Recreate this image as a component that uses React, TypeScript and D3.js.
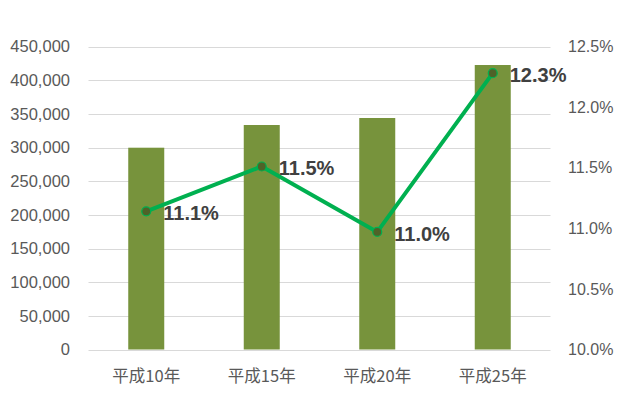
import { useEffect, useRef } from 'react';
import * as d3 from 'd3';

const categories = ['平成10年', '平成15年', '平成20年', '平成25年'];
const amounts = [299700, 333400, 343800, 422500];
const rates = [11.14, 11.51, 10.97, 12.28];
const leftTicks = [0, 50000, 100000, 150000, 200000, 250000, 300000, 350000, 400000, 450000];
const rightTicks = [10.0, 10.5, 11.0, 11.5, 12.0, 12.5];

const W = 622;
const H = 395;

const App = () => {
  const ref = useRef<SVGSVGElement>(null);

  useEffect(() => {
    const svg = d3.select(ref.current);
    svg.selectAll('*').remove();

    const left = 88.5;
    const right = 550.5;
    const top = 46.5;
    const bottom = 349.5;
    const numFont = "'Liberation Sans', Arial, sans-serif";

    const x = d3.scaleBand().domain(categories).range([left, right]);
    const yL = d3.scaleLinear().domain([0, 450000]).range([bottom, top]);
    const yR = d3.scaleLinear().domain([10, 12.5]).range([bottom, top]);

    // gridlines
    svg.append('g')
      .selectAll('line')
      .data(leftTicks)
      .enter().append('line')
      .attr('x1', left)
      .attr('x2', right)
      .attr('y1', d => Math.round(yL(d)) + 0.5)
      .attr('y2', d => Math.round(yL(d)) + 0.5)
      .attr('stroke', '#d9d9d9')
      .attr('stroke-width', 1);

    // left tick labels
    svg.append('g')
      .selectAll('text')
      .data(leftTicks)
      .enter().append('text')
      .attr('x', 70)
      .attr('y', d => yL(d))
      .attr('dy', '0.35em')
      .attr('text-anchor', 'end')
      .attr('font-family', numFont)
      .attr('font-size', 16.5)
      .attr('fill', '#595959')
      .text(d => d3.format(',')(d));

    // right tick labels
    svg.append('g')
      .selectAll('text')
      .data(rightTicks)
      .enter().append('text')
      .attr('x', 568)
      .attr('y', d => yR(d))
      .attr('dy', '0.35em')
      .attr('font-family', numFont)
      .attr('font-size', 16)
      .attr('fill', '#595959')
      .text(d => d.toFixed(1) + '%');

    // bars
    const bw = 36;
    svg.append('g')
      .selectAll('rect')
      .data(amounts)
      .enter().append('rect')
      .attr('x', (d, i) => x(categories[i])! + x.bandwidth() / 2 - bw / 2)
      .attr('y', d => yL(d))
      .attr('width', bw)
      .attr('height', d => bottom - yL(d))
      .attr('fill', '#77933c');

    // x labels
    svg.append('g')
      .selectAll('text')
      .data(categories)
      .enter().append('text')
      .attr('x', d => x(d)! + x.bandwidth() / 2)
      .attr('y', 382)
      .attr('text-anchor', 'middle')
      .attr('font-family', "'Noto Sans CJK JP', sans-serif")
      .attr('font-size', 16.5)
      .attr('fill', '#595959')
      .text(d => d);

    // line
    const pts = rates.map((r, i) => [x(categories[i])! + x.bandwidth() / 2, yR(r)] as [number, number]);
    svg.append('path')
      .attr('d', d3.line()(pts))
      .attr('fill', 'none')
      .attr('stroke', '#00b050')
      .attr('stroke-width', 4)
      .attr('stroke-linejoin', 'round');

    svg.append('g')
      .selectAll('circle')
      .data(pts)
      .enter().append('circle')
      .attr('cx', d => d[0])
      .attr('cy', d => d[1])
      .attr('r', 4.5)
      .attr('fill', '#4f6228')
      .attr('stroke', '#00b050')
      .attr('stroke-width', 1.2);

    // data labels
    svg.append('g')
      .selectAll('text')
      .data(pts)
      .enter().append('text')
      .attr('x', d => d[0] + 17)
      .attr('y', d => d[1] + 2)
      .attr('dy', '0.35em')
      .attr('font-family', numFont)
      .attr('font-size', 20)
      .attr('font-weight', 'bold')
      .attr('fill', '#404040')
      .text((d, i) => rates[i].toFixed(1) + '%');
  }, []);

  return (
    <svg ref={ref} width={W} height={H} style={{ position: 'absolute', left: 0, top: 0, background: '#fff' }} />
  );
};

export default App;
